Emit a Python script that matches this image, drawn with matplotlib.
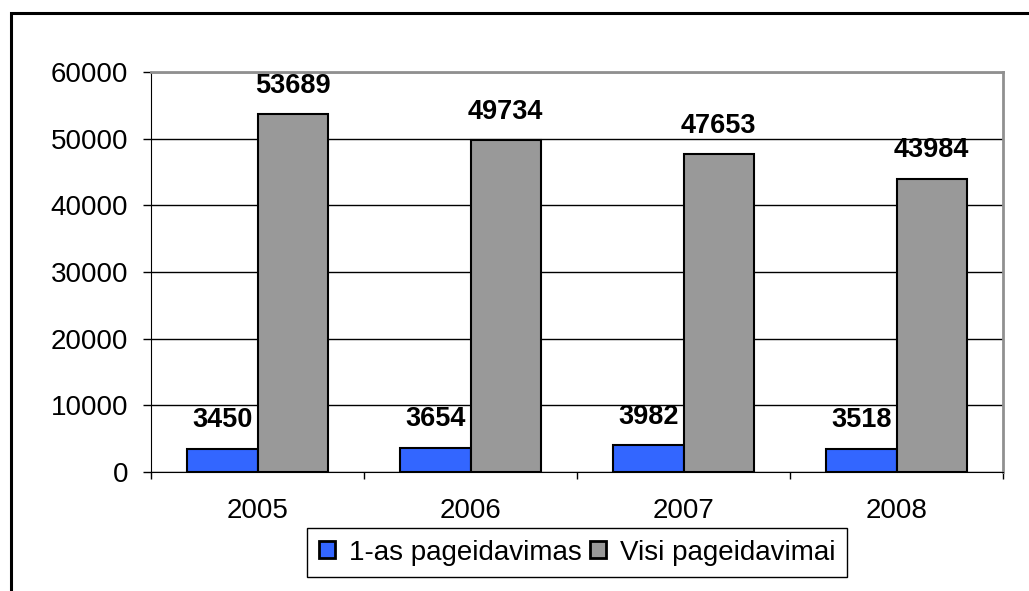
import matplotlib.pyplot as plt
from matplotlib.patches import Rectangle
import numpy as np

plt.rcParams['font.family'] = ['Liberation Sans', 'DejaVu Sans']

# data
years = ["2005", "2006", "2007", "2008"]
first_wish = [3450, 3654, 3982, 3518]
all_wishes = [53689, 49734, 47653, 43984]
series_names = ["1-as pageidavimas", "Visi pageidavimai"]
y_ticks = [0, 10000, 20000, 30000, 40000, 50000, 60000]

blue = "#3366FF"
gray = "#999999"

W, H = 1029, 591
fig = plt.figure(figsize=(W / 100, H / 100), dpi=100)
ax = fig.add_axes([151 / W, 1 - 472 / H, (1003 - 151) / W, (472 - 72) / H])

# outer frame, runs off the right and bottom edge like the original
fig.patches.append(Rectangle((11 / W, -0.05), 1.2, 1 - 13 / H + 0.05,
                             transform=fig.transFigure, fill=False,
                             edgecolor="black", linewidth=2.2, zorder=0))

x = np.arange(len(years))
w = 0.33
b1 = ax.bar(x - w / 2, first_wish, w, color=blue, edgecolor="black", linewidth=1.5,
            label=series_names[0], zorder=3)
b2 = ax.bar(x + w / 2, all_wishes, w, color=gray, edgecolor="black", linewidth=1.5,
            label=series_names[1], zorder=3)

for bars, vals in [(b1, first_wish), (b2, all_wishes)]:
    for r, v in zip(bars, vals):
        ax.annotate(str(v), (r.get_x() + r.get_width() / 2, v),
                    xytext=(0, 15.5), textcoords="offset points",
                    ha="center", va="baseline", fontsize=19.5, fontweight="bold")

ax.set_xlim(-0.5, len(years) - 0.5)
ax.set_ylim(0, 60000)
ax.set_yticks(y_ticks)
ax.set_yticklabels([str(t) for t in y_ticks], fontsize=20)
ax.tick_params(axis="y", direction="out", length=5.8, width=1, pad=10.5)
ax.yaxis.grid(True, color="black", linewidth=1)
ax.set_axisbelow(True)

ax.set_xticks(x)
ax.set_xticklabels(years, fontsize=20)
ax.set_xticks(np.arange(len(years) + 1) - 0.5, minor=True)
ax.tick_params(axis="x", which="major", length=0, pad=18.5)
ax.tick_params(axis="x", which="minor", direction="out", length=5, width=1)

ax.spines["left"].set_color("black")
ax.spines["bottom"].set_color("black")
ax.spines["top"].set_color("#909090")
ax.spines["right"].set_color("#909090")
ax.spines["top"].set_linewidth(2)
ax.spines["right"].set_linewidth(2)

# legend box drawn separately so its size matches the original
fig.patches.append(Rectangle((307 / W, 1 - 577 / H), (847 - 307) / W, (577 - 528) / H,
                             transform=fig.transFigure, fill=False,
                             edgecolor="black", linewidth=1))
leg = fig.legend(loc="center", bbox_to_anchor=(577 / W, 1 - 552.5 / H), ncol=2,
                 fontsize=20, frameon=False,
                 handlelength=0.57, handleheight=0.57, handletextpad=0.5,
                 columnspacing=0.3)
for p in leg.get_patches():
    p.set_linewidth(2)

fig.savefig("out.png", dpi=100)
